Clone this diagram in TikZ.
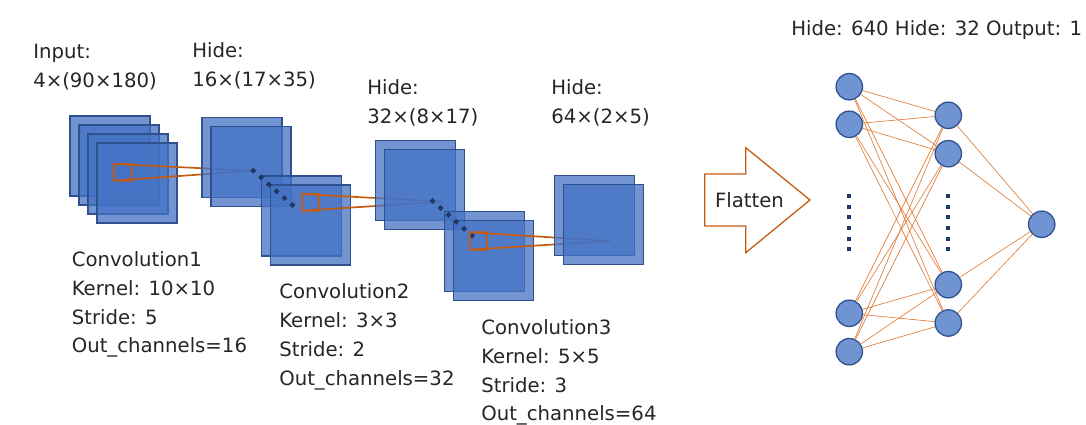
\documentclass[tikz,border=0pt]{standalone}
\usepackage{fontspec}
\setmainfont{DejaVu Sans}
\definecolor{fmapfill}{RGB}{68,114,196}
\definecolor{fmapline}{RGB}{47,82,143}
\definecolor{kernc}{RGB}{197,90,17}
\definecolor{wirec}{RGB}{226,122,52}
\definecolor{dotc}{RGB}{31,56,100}
\definecolor{neurc}{RGB}{112,148,210}
\definecolor{txtc}{RGB}{38,38,38}
\begin{document}
\begin{tikzpicture}[x=0.025cm,y=-0.025cm,
  fmap/.style={draw=fmapline,line width=.8pt,fill=fmapfill,fill opacity=.75,minimum size=2cm,inner sep=0pt},
  lbl/.style={anchor=base west,align=left,inner sep=0pt,text=txtc,font=\fontsize{14}{20.6}\selectfont},
  neuron/.style={circle,draw=fmapline,line width=.9pt,fill=neurc,minimum size=.66cm,inner sep=0pt},
  kbox/.style={draw=kernc,line width=1.2pt},
  wire/.style={draw=wirec,line width=.45pt}]
\fill[white](0,0)rectangle(1086,425);
\useasboundingbox(0,0)rectangle(1086,425);
\node[fmap](in1)at(110,156){};
\node[fmap](in2)at(119,165){};
\node[fmap](in3)at(128,174){};
\node[fmap](in4)at(137,183){};
\draw[kbox](114,164)rectangle(131.7,180.7)(114,164)--(253.3,170.7)--(114,180.7);
\node[fmap](ha1)at(242,157.3){};
\node[fmap](ha2)at(251,166.5){};
\node[fmap](ha3)at(301.3,216){};
\node[fmap](ha4)at(310.3,225){};
\foreach \i in {0,...,5}
  \fill[dotc](253.3+7.8*\i,170.7+6.86*\i)+(0,-3)--+(3,0)--+(0,3)--+(-3,0)--cycle;
\draw[kbox](301.7,194)rectangle(318.7,210.7)(301.7,194)--(443.3,201.7)--(301.7,210.7);
\node[fmap](hb1)at(415.5,180.7){};
\node[fmap](hb2)at(424.3,189.5){};
\node[fmap](hb3)at(484.7,251.7){};
\node[fmap](hb4)at(493.8,260.2){};
\foreach \i in {0,...,5}
  \fill[dotc](432.7+7.86*\i,201+6.94*\i)+(0,-3)--+(3,0)--+(0,3)--+(-3,0)--cycle;
\draw[kbox](469.7,232.3)rectangle(486.7,249.7)(469.7,232.3)--(610,241)--(469.7,249.7);
\node[fmap](hc1)at(594.7,215.5){};
\node[fmap](hc2)at(603.7,224.3){};
\node[lbl](inlbl)at(33,87.3){Input:\\4×(90×180)};
\node[lbl](halbl)at(192,86.5){Hide:\\16×(17×35)};
\node[lbl](hblbl)at(367,123.3){Hide:\\32×(8×17)};
\node[lbl](hclbl)at(551,123.3){Hide:\\64×(2×5)};
\node[lbl](c1lbl)at(71.5,353){Convolution1\\Kernel: 10×10\\Stride: 5\\Out\_channels=16};
\node[lbl](c2lbl)at(279,385.3){Convolution2\\Kernel: 3×3\\Stride: 2\\Out\_channels=32};
\node[lbl](c3lbl)at(481,421){Convolution3\\Kernel: 5×5\\Stride: 3\\Out\_channels=64};
\draw[kernc,line width=.9pt,fill=white](704.7,174)--(745.7,174)--(745.7,147.7)--(810,200)--(745.7,252.7)--(745.7,226)--(704.7,226)--cycle;
\node[text=txtc,font=\fontsize{14}{17}\selectfont](flat)at(749.5,200){Flatten};
\node[lbl](nnlbl)at(791,36){Hide: 640 Hide: 32 Output: 1};
\node[neuron](i1)at(849.3,86.7){};
\node[neuron](i2)at(849.3,124.3){};
\node[neuron](i3)at(849.3,313.3){};
\node[neuron](i4)at(849.3,351.7){};
\node[neuron](h1)at(948.3,115.3){};
\node[neuron](h2)at(948.3,153.7){};
\node[neuron](h3)at(948.3,284.7){};
\node[neuron](h4)at(948.3,323){};
\node[neuron](o)at(1041.7,224.3){};
\foreach \a in {1,...,4}{
  \foreach \b in {1,...,4}\draw[wire](i\a)--(h\b);
  \draw[wire](h\a)--(o);}
\foreach \j in {0,...,5}{
  \fill[dotc](849.3,196+10.7*\j)+(-2,-2)rectangle+(2,2);
  \fill[dotc](948.3,196+10.7*\j)+(-2,-2)rectangle+(2,2);}
\end{tikzpicture}
\end{document}
